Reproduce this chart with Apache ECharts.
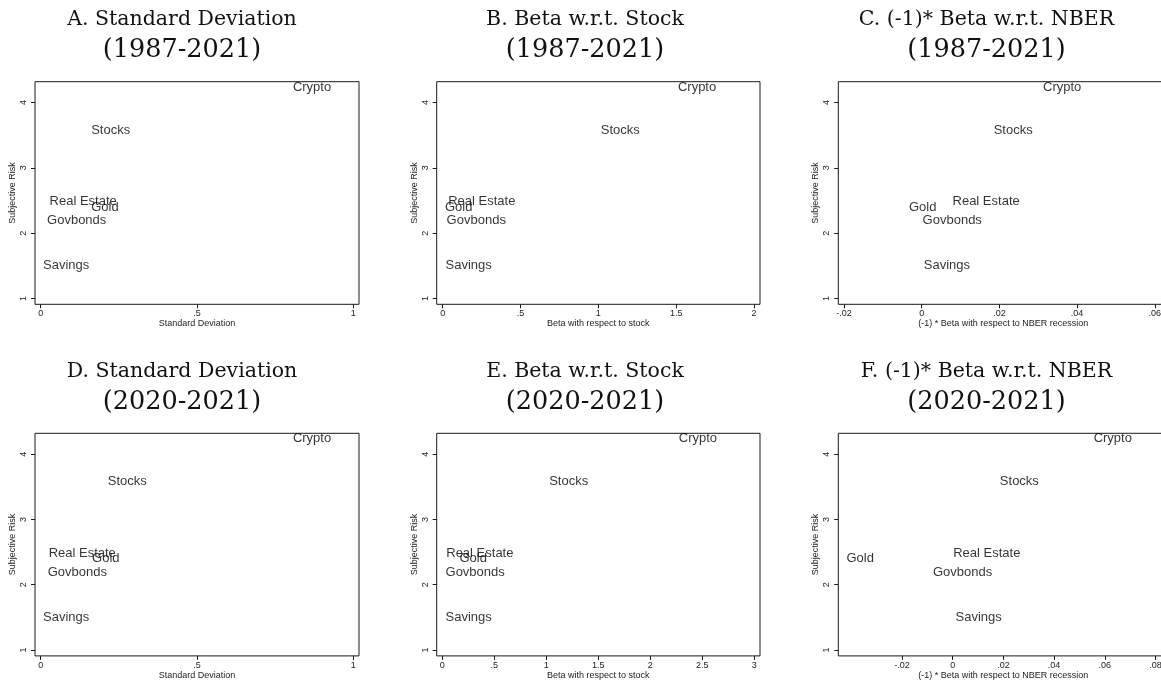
<!DOCTYPE html>
<html>
<head>
<meta charset="utf-8">
<script src="https://cdn.jsdelivr.net/npm/echarts@6/dist/echarts.min.js"></script>
<style>
html,body{margin:0;padding:0;background:#fff;}
#chart{width:1161px;height:685px;}
</style>
</head>
<body>
<div id="chart"></div>
<script>
// ---- data ----
var assets = ['Crypto', 'Stocks', 'Real Estate', 'Gold', 'Govbonds', 'Savings'];
var subjectiveRisk = [4.24, 3.58, 2.48, 2.40, 2.19, 1.50];

var sd8721   = [0.805, 0.160, 0.027, 0.160, 0.019, 0.006];
var beta8721 = [1.508, 1.012, 0.032, 0.011, 0.022, 0.015];
var nber8721 = [0.0311, 0.0184, 0.0078, -0.0034, 0.0001, 0.0004];

var sd2021   = [0.805, 0.213, 0.024, 0.163, 0.021, 0.006];
var beta2021 = [2.269, 1.023, 0.033, 0.160, 0.026, 0.026];
var nber2021 = [0.0554, 0.0184, 0.0000, -0.0421, -0.0080, 0.0009];

var yTicks = [1, 2, 3, 4];
var xTicksSD = [0, 0.5, 1];
var xTicksBeta8721 = [0, 0.5, 1, 1.5, 2];
var xTicksBeta2021 = [0, 0.5, 1, 1.5, 2, 2.5, 3];
var xTicksNber8721 = [-0.02, 0, 0.02, 0.04, 0.06];
var xTicksNber2021 = [-0.02, 0, 0.02, 0.04, 0.06, 0.08];

var titles1 = ['A. Standard Deviation', 'B. Beta w.r.t. Stock', 'C. (-1)* Beta w.r.t. NBER',
               'D. Standard Deviation', 'E. Beta w.r.t. Stock', 'F. (-1)* Beta w.r.t. NBER'];
var titles2 = ['(1987-2021)', '(1987-2021)', '(1987-2021)', '(2020-2021)', '(2020-2021)', '(2020-2021)'];
var xNames = ['Standard Deviation', 'Beta with respect to stock', '(-1) * Beta with respect to NBER recession',
              'Standard Deviation', 'Beta with respect to stock', '(-1) * Beta with respect to NBER recession'];
var yName = 'Subjective Risk';

// ---- layout ----
var panels = [
  {x: sd8721,   ticks: xTicksSD,       min: -0.018,  max: 1.018,  left: 35,    top: 81.7,  w: 324},
  {x: beta8721, ticks: xTicksBeta8721, min: -0.0385, max: 2.0385, left: 436.7, top: 81.7,  w: 323.3},
  {x: nber8721, ticks: xTicksNber8721, min: -0.02147,max: 0.06347,left: 838.3, top: 81.7,  w: 330},
  {x: sd2021,   ticks: xTicksSD,       min: -0.018,  max: 1.018,  left: 35,    top: 433.3, w: 324},
  {x: beta2021, ticks: xTicksBeta2021, min: -0.054,  max: 3.055,  left: 436.7, top: 433.3, w: 323.3},
  {x: nber2021, ticks: xTicksNber2021, min: -0.04513,max: 0.08505,left: 838.3, top: 433.3, w: 330}
];
var gridH = 222.6;
var titleCx = [182, 585, 986.5, 182, 585, 986.5];
var titleY1 = [19.9, 19.9, 19.9, 371.9, 371.9, 371.9];
var titleY2 = [50.1, 50.1, 50.1, 402.1, 402.1, 402.1];

function fmt(v) {
  var s = String(+v.toFixed(4));
  return s.replace(/^(-?)0\./, '$1.');
}

var axisColor = '#1a1a1a';
var grids = [], xAxes = [], yAxes = [], series = [], graphics = [];
panels.forEach(function (p, i) {
  grids.push({left: p.left, top: p.top, width: p.w, height: gridH,
              outerBoundsMode: 'none', containLabel: false,
              show: true, borderColor: axisColor, borderWidth: 1, backgroundColor: '#fff'});
  xAxes.push({
    type: 'value', gridIndex: i, min: p.min, max: p.max, position: 'bottom',
    name: xNames[i], nameLocation: 'middle', nameGap: 15,
    nameTextStyle: {fontFamily: 'Liberation Sans', fontSize: 9, color: '#222'},
    axisLine: {show: false, onZero: false},
    splitLine: {show: false},
    axisTick: {show: true, inside: false, length: 4, customValues: p.ticks,
               lineStyle: {color: axisColor, width: 1}},
    axisLabel: {show: true, customValues: p.ticks, margin: 5, formatter: fmt,
                fontFamily: 'Liberation Sans', fontSize: 9, color: '#222'}
  });
  yAxes.push({
    type: 'value', gridIndex: i, min: 0.91, max: 4.32, position: 'left',
    name: yName, nameLocation: 'middle', nameGap: 18, nameRotate: 90,
    nameTextStyle: {fontFamily: 'Liberation Sans', fontSize: 9, color: '#222'},
    axisLine: {show: false, onZero: false},
    splitLine: {show: false},
    axisTick: {show: true, inside: false, length: 4, customValues: yTicks,
               lineStyle: {color: axisColor, width: 1}},
    axisLabel: {show: true, customValues: yTicks, margin: 7, rotate: 90, formatter: fmt,
                fontFamily: 'Liberation Sans', fontSize: 9, color: '#222'}
  });
  var data = assets.map(function (a, k) {
    return {name: a, value: [p.x[k], subjectiveRisk[k]]};
  });
  series.push({
    type: 'scatter', xAxisIndex: i, yAxisIndex: i, data: data,
    symbolSize: 1, itemStyle: {color: 'rgba(0,0,0,0)'},
    silent: true, clip: false,
    label: {show: true, position: 'right', distance: 0, formatter: '{b}',
            fontFamily: 'Liberation Sans', fontSize: 13, color: '#000'},
    labelLayout: {hideOverlap: false}
  });
  graphics.push({type: 'text', x: titleCx[i], y: titleY1[i], silent: true,
    style: {text: titles1[i], fontFamily: 'DejaVu Serif', fontSize: 20.5, fill: '#111',
            textAlign: 'center', textVerticalAlign: 'middle'}});
  graphics.push({type: 'text', x: titleCx[i], y: titleY2[i], silent: true,
    style: {text: titles2[i], fontFamily: 'DejaVu Serif', fontSize: 25.5, fill: '#111',
            textAlign: 'center', textVerticalAlign: 'middle'}});
});

var chart = echarts.init(document.getElementById('chart'), null, {renderer: 'canvas'});
chart.setOption({
  animation: false,
  backgroundColor: '#fff',
  grid: grids, xAxis: xAxes, yAxis: yAxes, series: series, graphic: graphics
});
</script>
</body>
</html>
